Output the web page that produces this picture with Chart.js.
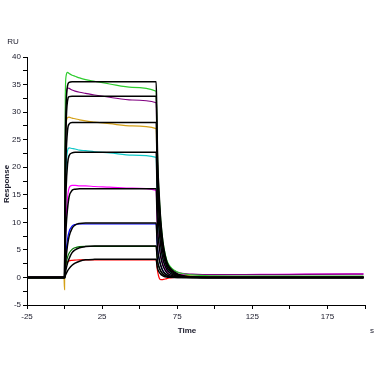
<!DOCTYPE html>
<html>
<head>
<meta charset="utf-8">
<script src="https://cdn.jsdelivr.net/npm/chart.js@4/dist/chart.umd.min.js"></script>
<style>
  html, body { margin: 0; padding: 0; background: #fff; }
  canvas { display: block; }
</style>
</head>
<body>
<canvas id="chart" width="375" height="375"></canvas>
<script>
// Sensorgram data (RU vs s)
const times = [-25, -10, -0.4, 0, 0.5, 1, 2, 3, 5, 7, 10, 14, 20, 30, 45, 61,
  61.5, 62, 63, 64, 65, 66, 68, 70, 73, 77, 85, 100, 130, 160, 199];

// measured curves
const greenData   = [-0.1, -0.1, -0.1, 0, 33, 36.5, 37.2, 37.0, 36.7, 36.5, 36.2, 35.9, 35.6, 35.1, 34.5, 33.8,
  27, 20.5, 14.8, 10.5, 7.6, 5.6, 3.2, 2.1, 1.3, 0.8, 0.45, 0.3, 0.25, 0.25, 0.25];
const purpleData  = [0, 0, 0, 0, 28, 32.5, 34.4, 34.3, 34.0, 33.8, 33.6, 33.4, 33.1, 32.7, 32.2, 31.7,
  25, 18.8, 13.3, 9.4, 6.8, 5.0, 2.9, 1.9, 1.2, 0.8, 0.6, 0.5, 0.5, 0.55, 0.6];
const orangeData  = [0, 0, 0, -2.2, 22, 27.5, 29.0, 29.1, 28.9, 28.8, 28.6, 28.4, 28.2, 27.9, 27.5, 27.0,
  21, 15.5, 10.9, 7.6, 5.4, 3.9, 2.2, 1.4, 0.8, 0.45, 0.25, 0.15, 0.15, 0.15, 0.15];
const cyanData    = [0, 0, 0, 0, 14, 19.5, 23.0, 23.5, 23.4, 23.3, 23.1, 23.0, 22.8, 22.6, 22.2, 21.8,
  16.3, 12, 8.3, 5.7, 4.0, 2.9, 1.6, 1.0, 0.55, 0.3, 0.15, 0.1, 0.1, 0.1, 0.1];
const magentaData = [0, 0, 0, 0, 6, 10.5, 14.5, 16.2, 16.7, 16.7, 16.6, 16.6, 16.5, 16.4, 16.2, 15.8,
  11.6, 8.4, 5.8, 4.0, 2.8, 2.0, 1.2, 0.8, 0.6, 0.5, 0.5, 0.5, 0.55, 0.6, 0.65];
const blueData    = [0, 0, 0, 0, 2.5, 4.5, 7.0, 8.3, 9.3, 9.6, 9.7, 9.7, 9.7, 9.7, 9.7, 9.7,
  7.0, 5.0, 3.3, 2.2, 1.5, 1.0, 0.5, 0.3, 0.15, 0.08, 0.05, 0.05, 0, 0, 0];
const darkGreenData = [0, 0, 0, 0, 1.5, 2.5, 3.7, 4.4, 5.1, 5.4, 5.6, 5.65, 5.65, 5.65, 5.65, 5.65,
  4.0, 2.8, 1.8, 1.2, 0.8, 0.5, 0.25, 0.15, 0.1, 0.08, 0.05, 0.05, 0.05, 0.05, 0.05];
const redData     = [-0.05, -0.05, -0.05, 0, 1.8, 2.5, 2.8, 3.0, 3.1, 3.15, 3.2, 3.2, 3.2, 3.2, 3.2, 3.2,
  2.0, 1.0, -0.1, -0.4, -0.4, -0.35, -0.2, -0.1, 0, 0, 0, 0, 0, 0, 0];

// fitted curves (black)
const fit1 = [0, 0, 0, 0, 22.4, 30.7, 34.8, 35.4, 35.5, 35.5, 35.5, 35.5, 35.5, 35.5, 35.5, 35.5,
  28, 21, 15, 10.5, 7.5, 5.4, 2.9, 1.8, 1.0, 0.45, 0.1, 0, 0, 0, 0];
const fit2 = [0, 0, 0, 0, 19.4, 27.5, 32.1, 32.8, 32.9, 32.9, 32.9, 32.9, 32.9, 32.9, 32.9, 32.9,
  25.5, 19, 13.4, 9.3, 6.6, 4.7, 2.5, 1.5, 0.8, 0.35, 0.08, 0, 0, 0, 0];
const fit3 = [0, 0, 0, 0, 14.6, 21.8, 26.7, 27.8, 28.1, 28.1, 28.1, 28.1, 28.1, 28.1, 28.1, 28.1,
  21.5, 15.8, 11, 7.6, 5.3, 3.8, 2.0, 1.2, 0.6, 0.25, 0.05, 0, 0, 0, 0];
const fit4 = [0, 0, 0, 0, 10.2, 15.9, 20.6, 22.1, 22.6, 22.7, 22.7, 22.7, 22.7, 22.7, 22.7, 22.7,
  17, 12.4, 8.5, 5.8, 4.0, 2.8, 1.45, 0.85, 0.4, 0.15, 0.03, 0, 0, 0, 0];
const fit5 = [0, 0, 0, 0, 5.3, 8.9, 12.5, 14.6, 15.8, 16.0, 16.1, 16.1, 16.1, 16.1, 16.1, 16.1,
  11.8, 8.4, 5.7, 3.8, 2.6, 1.8, 0.9, 0.5, 0.22, 0.08, 0, 0, 0, 0, 0];
const fit6 = [0, 0, 0, 0, 2.0, 3.5, 5.9, 7.4, 8.9, 9.5, 9.8, 9.9, 9.9, 9.9, 9.9, 9.9,
  7.1, 5.0, 3.3, 2.2, 1.45, 0.95, 0.45, 0.22, 0.1, 0.03, 0, 0, 0, 0, 0];
const fit7 = [0, 0, 0, 0, 0.8, 1.5, 2.6, 3.4, 4.5, 5.0, 5.4, 5.6, 5.7, 5.7, 5.7, 5.7,
  4.0, 2.8, 1.8, 1.15, 0.75, 0.48, 0.2, 0.1, 0.04, 0, 0, 0, 0, 0, 0];
const fit8 = [0, 0, 0, 0, 0.35, 0.65, 1.2, 1.6, 2.2, 2.6, 2.95, 3.2, 3.28, 3.3, 3.3, 3.3,
  2.3, 1.55, 0.95, 0.6, 0.37, 0.22, 0.08, 0.03, 0, 0, 0, 0, 0, 0, 0];

const measured = [greenData, purpleData, orangeData, cyanData, magentaData, blueData, darkGreenData, redData];
const fits = [fit1, fit2, fit3, fit4, fit5, fit6, fit7, fit8];
const dataColors = ['#2ecc2e', '#800080', '#d4a017', '#10c8c8', '#ff00ff', '#0000ff', '#007000', '#ff0000'];

const toPoints = vals => times.map((t, i) => ({ x: t, y: vals[i] }));

const datasets = [];
// fits first so they are painted on top
fits.forEach((f, i) => {
  datasets.push({
    label: 'fit ' + (i + 1),
    data: toPoints(f),
    borderColor: '#000',
    borderWidth: 1.5,
    pointRadius: 0,
    cubicInterpolationMode: 'monotone',
    fill: false
  });
});
measured.forEach((m, i) => {
  datasets.push({
    label: 'data ' + (i + 1),
    data: toPoints(m),
    borderColor: dataColors[i],
    borderWidth: 1.2,
    pointRadius: 0,
    cubicInterpolationMode: 'monotone',
    fill: false
  });
});

const textColor = '#1a1a2a';
const tickFont = { family: '"Liberation Sans", Arial, sans-serif', size: 8 };

const axisText = {
  id: 'axisText',
  afterDraw(chart) {
    const ctx = chart.ctx;
    ctx.save();
    ctx.fillStyle = textColor;
    ctx.textAlign = 'center';
    ctx.textBaseline = 'middle';
    ctx.font = '8px "Liberation Sans", Arial, sans-serif';
    ctx.fillText('RU', 13, 42);
    ctx.fillText('s', 372, 331);
    ctx.font = 'bold 8px "Liberation Sans", Arial, sans-serif';
    ctx.fillText('Time', 187, 331);
    ctx.translate(7, 184);
    ctx.rotate(-Math.PI / 2);
    ctx.fillText('Response', 0, 0);
    ctx.restore();
  }
};

new Chart(document.getElementById('chart'), {
  type: 'line',
  data: { datasets },
  options: {
    responsive: false,
    animation: false,
    layout: { padding: { top: 57, right: 10, left: 0, bottom: 0 } },
    plugins: { legend: { display: false }, tooltip: { enabled: false } },
    scales: {
      x: {
        type: 'linear',
        min: -25,
        max: 200,
        border: { color: '#000', width: 1 },
        grid: { drawOnChartArea: false, tickLength: 4, color: '#000' },
        ticks: {
          stepSize: 25,
          autoSkip: false,
          maxRotation: 0,
          padding: 3,
          color: textColor,
          font: tickFont,
          callback: v => ((v + 25) % 50 === 0 ? String(v) : '')
        },
        afterFit: s => { s.height = 70; }
      },
      y: {
        min: -5,
        max: 40,
        border: { color: '#000', width: 1 },
        grid: { drawOnChartArea: false, tickLength: 4, color: '#000' },
        ticks: {
          stepSize: 2.5,
          autoSkip: false,
          padding: 2,
          color: textColor,
          font: tickFont,
          callback: v => (v % 5 === 0 ? String(v) : '')
        },
        afterFit: s => { s.width = 27; }
      }
    }
  },
  plugins: [axisText]
});
</script>
</body>
</html>
